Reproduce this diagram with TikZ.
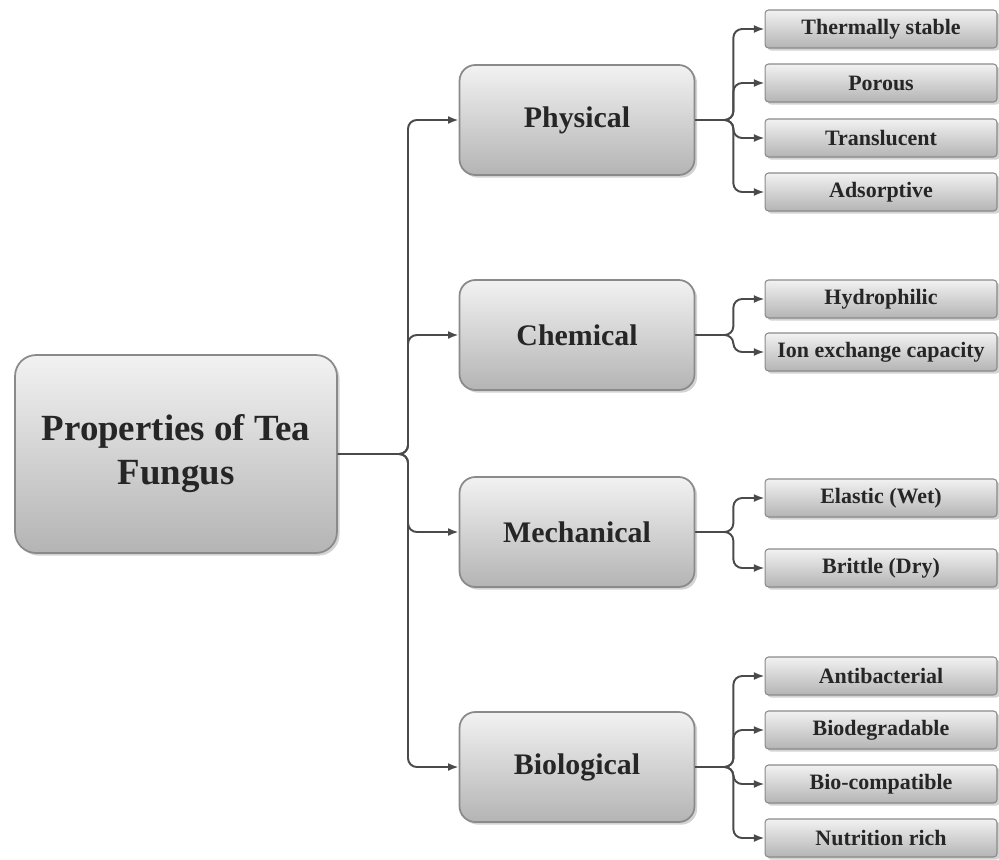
\documentclass[tikz,border=0pt]{standalone}
\usepackage{fontspec}
\setmainfont{Liberation Serif}
\usetikzlibrary{arrows.meta, shadows, calc}
\definecolor{boxtop}{HTML}{F2F2F2}
\definecolor{boxbottom}{HTML}{B4B4B4}
\definecolor{boxline}{HTML}{8A8A8A}
\definecolor{inkgray}{HTML}{262626}
\definecolor{linkgray}{HTML}{4A4A4A}

\tikzset{
  caja/.style={draw=boxline, line width=1pt, top color=boxtop, bottom color=boxbottom,
    text=inkgray, align=center, drop shadow={opacity=0.35, shadow xshift=1.5pt, shadow yshift=-1.5pt}},
  raiz/.style={caja, rounded corners=12pt, minimum width=6.44cm, minimum height=3.96cm,
    font=\fontsize{21}{25}\selectfont\bfseries},
  grupo/.style={caja, rounded corners=9pt, minimum width=4.7cm, minimum height=2.2cm,
    font=\fontsize{17}{20}\selectfont\bfseries},
  hoja/.style={caja, rounded corners=2pt, line width=0.6pt, minimum width=4.64cm, minimum height=0.76cm,
    font=\fontsize{12.5}{14}\selectfont\bfseries},
  enlace/.style={draw=linkgray, line width=1.1pt, rounded corners=5pt, -{Latex[length=6pt,width=4.5pt]}},
}

\begin{document}
\begin{tikzpicture}[x=0.02cm, y=-0.02cm]
  \useasboundingbox (0,0) rectangle (999,859);

  % Caja principal
  \node[raiz] (tea) at (176,454) {Properties of Tea\\Fungus};

  % Grupos de propiedades
  \node[grupo] (phys) at (577,120) {Physical};
  \node[grupo] (chem) at (577,335) {Chemical};
  \node[grupo] (mech) at (577,532) {Mechanical};
  \node[grupo] (bio)  at (577,767) {Biological};

  % Propiedades individuales
  \foreach \n/\y/\t in {ts/29/Thermally stable, po/83/Porous, tr/138/Translucent, ad/192/Adsorptive,
      hy/299/Hydrophilic, ie/352/Ion exchange capacity,
      el/498/Elastic (Wet), br/568/Brittle (Dry),
      ab/676/Antibacterial, bd/730/Biodegradable, bc/784/Bio-compatible, nr/838/Nutrition rich}
    \node[hoja] (\n) at (881,\y) {\t};

  % Conexiones desde la raiz
  \coordinate (rj) at (408,454);
  \foreach \m in {phys,chem,mech,bio}
    \draw[enlace] (tea.east) -- (rj) |- (\m.west);

  % Conexiones hacia las hojas
  \coordinate (pj) at ($(phys.east)+(38,0)$);
  \coordinate (cj) at ($(chem.east)+(38,0)$);
  \coordinate (mj) at ($(mech.east)+(38,0)$);
  \coordinate (bj) at ($(bio.east)+(38,0)$);
  \foreach \h in {ts,po,tr,ad}
    \draw[enlace] (phys.east) -- (pj) |- (\h.west);
  \foreach \h in {hy,ie}
    \draw[enlace] (chem.east) -- (cj) |- (\h.west);
  \foreach \h in {el,br}
    \draw[enlace] (mech.east) -- (mj) |- (\h.west);
  \foreach \h in {ab,bd,bc,nr}
    \draw[enlace] (bio.east) -- (bj) |- (\h.west);
\end{tikzpicture}
\end{document}
